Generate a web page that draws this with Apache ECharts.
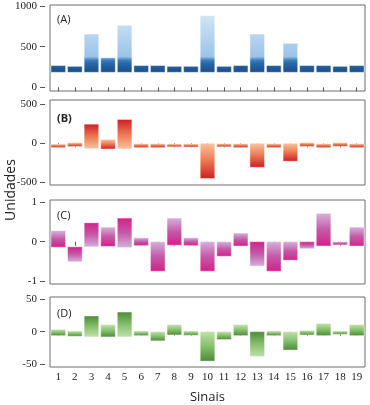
<!DOCTYPE html>
<html>
<head>
<meta charset="utf-8">
<script src="https://cdn.jsdelivr.net/npm/echarts@6/dist/echarts.min.js"></script>
<style>
  html, body { margin: 0; padding: 0; background: #fff; }
  #chart { width: 370px; height: 405px; }
</style>
</head>
<body>
<div id="chart"></div>
<script>
// sinais 1..19
const categories = ['1', '2', '3', '4', '5', '6', '7', '8', '9', '10',
  '11', '12', '13', '14', '15', '16', '17', '18', '19']

// (A) floating bars, low / high
const aLow = [185, 185, 185, 185, 185, 185, 185, 185, 185, 185,
  185, 185, 185, 185, 185, 185, 185, 185, 185]
const aHigh = [268, 258, 655, 364, 763, 268, 268, 258, 258, 881,
  258, 268, 655, 268, 541, 268, 268, 258, 268]

// (B), (C), (D): each bar goes from start (light) to end (dark)
const bStart = [-10, 8, -70, 50, -73, -5, -5, -8, -8, 0,
  -5, -5, 0, -5, 0, 8, -5, 8, -5]
const bEnd = [-55, -40, 245, -73, 305, -55, -55, -45, -48, -452,
  -45, -55, -308, -55, -230, -40, -55, -38, -55]

const cStart = [0.28, -0.51, -0.13, 0.37, -0.15, 0.10, 0, 0.60, 0.10, 0,
  0, 0.22, -0.62, 0, 0, -0.18, 0.72, 0, 0.37]
const cEnd = [-0.14, -0.13, 0.48, -0.12, 0.60, -0.10, -0.75, -0.09, -0.10, -0.75,
  -0.37, -0.11, 0, -0.75, -0.47, 0, -0.11, -0.08, -0.11]

const dStart = [3.5, 1, -8, 10.7, -8, 1, 0, 10.7, 1, 0,
  0, 10.7, -38, 1, 0, 2, 12.5, 1, 10.7]
const dEnd = [-6, -7, 24, -8, 30, -6, -14, -5, -5.5, -45,
  -12, -6, 0, -6, -28, -5, -6, -4, -6]

const yTicks = [[0, 500, 1000], [-500, 0, 500], [-1, 0, 1], [-50, 0, 50]]
const panelNames = ['(A)', '(B)', '(C)', '(D)']

const chart = echarts.init(document.getElementById('chart'))

const serifFont = 'Liberation Serif'
const sansFont = 'Open Sans'

// panel frames
const grids = [
  { left: 50, right: 5, top: 5, height: 86 },
  { left: 50, right: 5, top: 100, height: 85 },
  { left: 50, right: 5, top: 200, height: 84 },
  { left: 50, right: 5, top: 297, height: 73 }
]
const yRanges = [[-45, 1012], [-535, 555], [-1.075, 1.06], [-54, 53]]

const gradColors = [
  null,
  ['#f8c59c', '#ec7752', '#cf1f24'],
  ['#d6b0da', '#c45aa8', '#d3218b'],
  ['#bde2a9', '#86bf6c', '#4d8c36']
]

function pairs (start, end) {
  return start.map(function (s, i) { return [i, s, end[i]] })
}

function rangeItem (panel) {
  return function (params, api) {
    const i = api.value(0)
    const s = api.value(1)
    const e = api.value(2)
    const p1 = api.coord([i, s])
    const p2 = api.coord([i, e])
    const w = api.size([1, 0])[0] * 0.88
    let fill
    if (panel === 0) {
      // colour follows the value: dark blue below ~330, light above
      const y0 = api.coord([i, 185])[1]
      const y1 = api.coord([i, 900])[1]
      fill = {
        type: 'linear', x: 0, y: y0, x2: 0, y2: y1, global: true,
        colorStops: [
          { offset: 0, color: '#1a4d88' },
          { offset: 0.15, color: '#2767a6' },
          { offset: 0.21, color: '#3f80bf' },
          { offset: 0.27, color: '#9cc4e9' },
          { offset: 1, color: '#d2e5f6' }
        ]
      }
    } else {
      const c = gradColors[panel]
      fill = {
        type: 'linear', x: 0, y: p1[1], x2: 0, y2: p2[1], global: true,
        colorStops: [
          { offset: 0, color: c[0] },
          { offset: 0.5, color: c[1] },
          { offset: 1, color: c[2] }
        ]
      }
    }
    const top = Math.min(p1[1], p2[1])
    return {
      type: 'rect',
      shape: { x: p1[0] - w / 2, y: top, width: w, height: Math.abs(p2[1] - p1[1]) },
      style: { fill: fill, stroke: 'rgba(255,255,255,0.7)', lineWidth: 0.6 }
    }
  }
}

const seriesData = [
  pairs(aLow, aHigh),
  pairs(bStart, bEnd),
  pairs(cStart, cEnd),
  pairs(dStart, dEnd)
]

const option = {
  animation: false,
  title: panelNames.map(function (name, k) {
    return {
      text: name,
      left: 52,
      top: [9, 108, 205, 303][k],
      textStyle: {
        fontFamily: sansFont,
        fontSize: 11,
        fontWeight: k === 1 ? 'bold' : 'normal',
        color: '#222'
      }
    }
  }),
  grid: grids.map(function (g) {
    return Object.assign({ show: true, borderColor: '#6e6e6e', borderWidth: 1 }, g)
  }),
  xAxis: grids.map(function (g, k) {
    return {
      type: 'category',
      gridIndex: k,
      data: categories,
      axisLine: { show: false },
      axisTick: {
        show: true, alignWithLabel: true, interval: 0, length: 4,
        lineStyle: { color: '#555' }
      },
      axisLabel: {
        show: k === 3,
        interval: 0,
        margin: 5,
        fontFamily: serifFont,
        fontSize: 11,
        color: '#222'
      },
      name: k === 3 ? 'Sinais' : '',
      nameLocation: 'middle',
      nameGap: 24,
      nameTextStyle: { fontFamily: sansFont, fontSize: 13, color: '#222' }
    }
  }),
  yAxis: grids.map(function (g, k) {
    return {
      type: 'value',
      gridIndex: k,
      min: yRanges[k][0],
      max: yRanges[k][1],
      offset: 5,
      axisLine: { show: false },
      splitLine: { show: false },
      axisTick: {
        show: true, length: 5, customValues: yTicks[k],
        lineStyle: { color: '#555' }
      },
      axisLabel: {
        customValues: yTicks[k],
        formatter: function (v) { return String(v) },
        margin: 8,
        fontFamily: serifFont,
        fontSize: 11,
        color: '#222'
      }
    }
  }),
  graphic: [{
    type: 'text',
    x: 4,
    y: 190,
    rotation: Math.PI / 2,
    style: {
      text: 'Unidades',
      fontFamily: sansFont,
      fontSize: 14,
      fill: '#222',
      align: 'center',
      verticalAlign: 'top'
    }
  }],
  series: seriesData.map(function (data, k) {
    return {
      type: 'custom',
      xAxisIndex: k,
      yAxisIndex: k,
      renderItem: rangeItem(k),
      encode: { x: 0, y: [1, 2] },
      data: data
    }
  })
}

chart.setOption(option)
</script>
</body>
</html>
